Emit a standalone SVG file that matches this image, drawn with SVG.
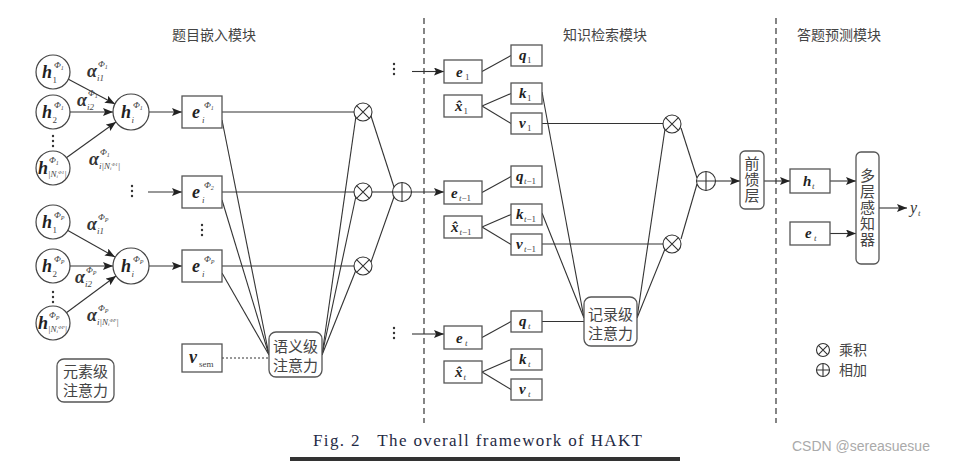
<svg xmlns="http://www.w3.org/2000/svg" width="964" height="461" viewBox="0 0 964 461">
<defs>
<style>
.ln{stroke:#333;stroke-width:1.1;fill:none}
.dl{stroke:#222;stroke-width:1.1;fill:none;stroke-dasharray:6,4}
.bx{fill:#fff;stroke:#555;stroke-width:1.3}
.cc{fill:#fff;stroke:#444;stroke-width:1.2}
.op{fill:#fff;stroke:#333;stroke-width:1.1}
.v{font-family:"Liberation Serif",serif;font-weight:bold;font-style:italic;font-size:18px;fill:#222}
.vs{font-family:"Liberation Serif",serif;font-weight:bold;font-style:italic;font-size:15px;fill:#222}
.sm{font-family:"Liberation Serif",serif;font-style:italic;font-size:9px;fill:#444}
.sn{font-family:"Liberation Serif",serif;font-size:9px;fill:#444}
.al{font-family:"Liberation Serif",serif;font-style:italic;font-weight:bold;font-size:18px;fill:#333}
.yt{font-family:"Liberation Serif",serif;font-style:italic;font-size:16px;fill:#333}
.cn{font-family:"Noto Sans CJK SC",sans-serif;font-size:14px;fill:#444}
.hd{font-family:"Noto Sans CJK SC",sans-serif;font-size:14px;fill:#444;text-anchor:middle}
.ct{font-family:"Noto Sans CJK SC",sans-serif;font-size:15px;fill:#444;text-anchor:middle}
.vt{font-family:"Noto Sans CJK SC",sans-serif;font-size:15px;fill:#444;text-anchor:middle;writing-mode:vertical-rl;letter-spacing:1.2px}
.dot{fill:#333}
</style>
<marker id="ah" viewBox="0 0 10 8" refX="10" refY="4" markerWidth="10" markerHeight="8" markerUnits="userSpaceOnUse" orient="auto">
<path d="M0,0 L10,4 L0,8 L2,4 z" fill="#222"/>
</marker>
<g id="otimes"><circle class="op" r="9"/><path class="ln" d="M-6.4,-6.4 L6.4,6.4 M-6.4,6.4 L6.4,-6.4"/></g>
<g id="oplus"><circle class="op" r="9.5"/><path class="ln" d="M-9.5,0 L9.5,0 M0,-9.5 L0,9.5"/></g>
<g id="vdots"><circle class="dot" cx="0" cy="0" r="1.2"/><circle class="dot" cx="0" cy="5" r="1.2"/><circle class="dot" cx="0" cy="10" r="1.2"/></g>
</defs>
<rect width="964" height="461" fill="#fff"/>

<!-- section headers -->
<text class="hd" x="214" y="40">题目嵌入模块</text>
<text class="hd" x="605" y="40">知识检索模块</text>
<text class="hd" x="839" y="40">答题预测模块</text>

<!-- dashed separators -->
<line class="dl" x1="424" y1="18" x2="424" y2="423"/>
<line class="dl" x1="776" y1="18" x2="776" y2="423"/>

<!-- connectors -->
<g id="connectors">
<line class="ln" x1="68" y1="79" x2="115" y2="104" marker-end="url(#ah)"/>
<line class="ln" x1="69" y1="112" x2="113" y2="112" marker-end="url(#ah)"/>
<line class="ln" x1="66" y1="158" x2="116" y2="122" marker-end="url(#ah)"/>
<line class="ln" x1="149" y1="112" x2="182" y2="112" marker-end="url(#ah)"/>
<line class="ln" x1="67" y1="230" x2="115" y2="257" marker-end="url(#ah)"/>
<line class="ln" x1="69" y1="266" x2="113" y2="266" marker-end="url(#ah)"/>
<line class="ln" x1="66" y1="313" x2="116" y2="276" marker-end="url(#ah)"/>
<line class="ln" x1="149" y1="266" x2="182" y2="266" marker-end="url(#ah)"/>
<line class="ln" x1="148" y1="192" x2="182" y2="192" marker-end="url(#ah)"/>
<line class="ln" x1="222" y1="112" x2="354" y2="112"/>
<line class="ln" x1="222" y1="192" x2="354" y2="192"/>
<line class="ln" x1="222" y1="266" x2="354" y2="266"/>
<line class="ln" x1="222" y1="120" x2="269" y2="355"/>
<line class="ln" x1="222" y1="200" x2="269" y2="355"/>
<line class="ln" x1="222" y1="273" x2="269" y2="355"/>
<line x1="222" y1="358" x2="269" y2="358" stroke="#333" stroke-width="1" stroke-dasharray="2,2"/>
<line class="ln" x1="322" y1="355" x2="356" y2="116"/>
<line class="ln" x1="322" y1="355" x2="356" y2="196"/>
<line class="ln" x1="322" y1="355" x2="356" y2="270"/>
<line class="ln" x1="371" y1="116" x2="394" y2="187"/>
<line class="ln" x1="372" y1="192" x2="393" y2="192"/>
<line class="ln" x1="371" y1="262" x2="394" y2="197"/>
<line class="ln" x1="411.5" y1="192" x2="444" y2="192" marker-end="url(#ah)"/>
<line class="ln" x1="412" y1="71.5" x2="444" y2="71.5" marker-end="url(#ah)"/>
<line class="ln" x1="412" y1="334" x2="444" y2="334" marker-end="url(#ah)"/>
<line class="ln" x1="482" y1="71.5" x2="511" y2="55.5"/>
<line class="ln" x1="482" y1="106" x2="511" y2="93.5"/>
<line class="ln" x1="482" y1="106" x2="511" y2="123.5"/>
<line class="ln" x1="482" y1="192.5" x2="511" y2="176.5"/>
<line class="ln" x1="482" y1="227" x2="511" y2="214.5"/>
<line class="ln" x1="482" y1="227" x2="511" y2="244.5"/>
<line class="ln" x1="482" y1="337.5" x2="511" y2="321.5"/>
<line class="ln" x1="482" y1="372" x2="511" y2="359.5"/>
<line class="ln" x1="482" y1="372" x2="511" y2="389.5"/>
<line class="ln" x1="542" y1="92" x2="584" y2="318"/>
<line class="ln" x1="542" y1="213" x2="584" y2="318"/>
<line class="ln" x1="542" y1="321.5" x2="584" y2="321.5"/>
<line class="ln" x1="542" y1="123.5" x2="663" y2="123.5"/>
<line class="ln" x1="542" y1="244" x2="663" y2="244"/>
<line class="ln" x1="637" y1="318" x2="665" y2="129"/>
<line class="ln" x1="637" y1="318" x2="665" y2="249"/>
<line class="ln" x1="681" y1="128" x2="697" y2="178"/>
<line class="ln" x1="681" y1="239" x2="697" y2="184"/>
<line class="ln" x1="715.5" y1="181" x2="740" y2="181" marker-end="url(#ah)"/>
<line class="ln" x1="764" y1="181" x2="790" y2="181" marker-end="url(#ah)"/>
<line class="ln" x1="830" y1="181" x2="856" y2="181" marker-end="url(#ah)"/>
<line class="ln" x1="830" y1="233.5" x2="856" y2="233.5" marker-end="url(#ah)"/>
<line class="ln" x1="879" y1="208" x2="907" y2="208" marker-end="url(#ah)"/>
</g>

<!-- Left: element-level nodes group Phi1 -->
<g id="h1_phi1">
<circle class="cc" cx="53" cy="72" r="17"/>
<text class="v" x="42" y="78">h</text><text class="sn" x="52.5" y="83">1</text>
<text class="sm" x="54" y="68">Φ<tspan font-size="6" dy="2">1</tspan></text>
</g>
<g id="h2_phi1">
<circle class="cc" cx="53" cy="112" r="17"/>
<text class="v" x="42" y="118">h</text><text class="sn" x="52.5" y="123">2</text>
<text class="sm" x="54" y="108">Φ<tspan font-size="6" dy="2">1</tspan></text>
</g>
<use href="#vdots" x="53" y="136"/>
<g id="hN_phi1">
<circle class="cc" cx="53" cy="168" r="17"/>
<text class="v" x="38" y="174">h</text>
<text class="sm" x="49" y="163">Φ<tspan font-size="6" dy="2">1</tspan></text>
<text class="sm" x="48" y="177" font-size="7">|N<tspan font-size="5" dy="1">i</tspan><tspan font-size="5" dy="-4">Φ1</tspan><tspan dy="3">|</tspan></text>
</g>
<g id="hi_phi1">
<circle class="cc" cx="131" cy="112" r="18"/>
<text class="v" x="121" y="118">h</text><text class="sm" x="131.5" y="123">i</text>
<text class="sm" x="133" y="108">Φ<tspan font-size="6" dy="2">1</tspan></text>
</g>
<g id="alpha_phi1">
<text class="al" x="87" y="77">α</text><text class="sm" x="97" y="81">i1</text><text class="sm" x="98" y="67">Φ<tspan font-size="6" dy="2">1</tspan></text>
<text class="al" x="77" y="106">α</text><text class="sm" x="87" y="110">i2</text><text class="sm" x="88" y="96">Φ<tspan font-size="6" dy="2">1</tspan></text>
<text class="al" x="89" y="165">α</text><text class="sm" x="99" y="169" font-size="7">i|N<tspan font-size="5" dy="1">i</tspan><tspan font-size="5" dy="-4">Φ1</tspan><tspan dy="3">|</tspan></text><text class="sm" x="100" y="155">Φ<tspan font-size="6" dy="2">1</tspan></text>
</g>
<g id="e_phi1">
<rect class="bx" x="182" y="96" width="40" height="32"/>
<text class="v" x="192" y="118">e</text><text class="sm" x="202" y="123">i</text>
<text class="sm" x="204" y="108">Φ<tspan font-size="6" dy="2">1</tspan></text>
</g>
<use href="#vdots" x="132" y="186"/>
<g id="e_phi2">
<rect class="bx" x="182" y="176" width="40" height="32"/>
<text class="v" x="192" y="198">e</text><text class="sm" x="202" y="203">i</text>
<text class="sm" x="204" y="188">Φ<tspan font-size="6" dy="2">2</tspan></text>
</g>
<use href="#vdots" x="202" y="225"/>
<g id="h1_phip">
<circle class="cc" cx="53" cy="222" r="17"/>
<text class="v" x="42" y="228">h</text><text class="sn" x="52.5" y="233">1</text>
<text class="sm" x="54" y="218">Φ<tspan font-size="6" dy="2">P</tspan></text>
</g>
<g id="h2_phip">
<circle class="cc" cx="53" cy="266" r="17"/>
<text class="v" x="42" y="272">h</text><text class="sn" x="52.5" y="277">2</text>
<text class="sm" x="54" y="262">Φ<tspan font-size="6" dy="2">P</tspan></text>
</g>
<use href="#vdots" x="53" y="292"/>
<g id="hN_phip">
<circle class="cc" cx="53" cy="323" r="17"/>
<text class="v" x="38" y="329">h</text>
<text class="sm" x="49" y="318">Φ<tspan font-size="6" dy="2">P</tspan></text>
<text class="sm" x="48" y="332" font-size="7">|N<tspan font-size="5" dy="1">i</tspan><tspan font-size="5" dy="-4">ΦP</tspan><tspan dy="3">|</tspan></text>
</g>
<g id="hi_phip">
<circle class="cc" cx="131" cy="266" r="18"/>
<text class="v" x="121" y="272">h</text><text class="sm" x="131.5" y="277">i</text>
<text class="sm" x="133" y="262">Φ<tspan font-size="6" dy="2">P</tspan></text>
</g>
<g id="alpha_phip">
<text class="al" x="87" y="230">α</text><text class="sm" x="97" y="234">i1</text><text class="sm" x="98" y="220">Φ<tspan font-size="6" dy="2">P</tspan></text>
<text class="al" x="75" y="283">α</text><text class="sm" x="85" y="287">i2</text><text class="sm" x="86" y="273">Φ<tspan font-size="6" dy="2">P</tspan></text>
<text class="al" x="87" y="321">α</text><text class="sm" x="97" y="325" font-size="7">i|N<tspan font-size="5" dy="1">i</tspan><tspan font-size="5" dy="-4">ΦP</tspan><tspan dy="3">|</tspan></text><text class="sm" x="98" y="311">Φ<tspan font-size="6" dy="2">P</tspan></text>
</g>
<g id="e_phip">
<rect class="bx" x="182" y="250" width="40" height="32"/>
<text class="v" x="192" y="272">e</text><text class="sm" x="202" y="277">i</text>
<text class="sm" x="204" y="262">Φ<tspan font-size="6" dy="2">P</tspan></text>
</g>
<g id="v_sem">
<rect class="bx" x="182" y="344" width="40" height="28"/>
<text class="v" x="189" y="363">v</text><text class="sn" x="199" y="367" font-size="9">sem</text>
</g>
<g id="elem_att">
<rect class="bx" x="57" y="359" width="57" height="43" rx="7"/>
<text class="ct" x="85.5" y="377">元素级</text>
<text class="ct" x="85.5" y="396">注意力</text>
</g>
<g id="sem_att">
<rect class="bx" x="269" y="332" width="53" height="45" rx="7"/>
<text class="ct" x="295.5" y="352">语义级</text>
<text class="ct" x="295.5" y="371">注意力</text>
</g>
<g id="ops_left">
<use href="#otimes" x="363" y="112"/>
<use href="#otimes" x="363" y="192"/>
<use href="#otimes" x="363" y="266"/>
<use href="#oplus" x="402" y="192"/>
</g>
<use href="#vdots" x="394" y="64"/>
<use href="#vdots" x="394" y="328"/>

<!-- Knowledge retrieval -->
<g id="e1"><rect class="bx" x="444" y="60" width="38" height="23"/><text class="vs" x="456" y="77">e</text><text class="sn" x="465" y="80">1</text></g>
<g id="q1"><rect class="bx" x="511" y="45" width="31" height="21"/><text class="vs" x="519" y="60">q</text><text class="sn" x="527" y="63">1</text></g>
<g id="x1"><rect class="bx" x="444" y="95" width="38" height="22"/><text class="vs" x="455" y="111">x&#x302;<tspan class="sn" font-weight="normal" font-style="normal" dx="1" dy="3">1</tspan></text></g>
<g id="k1"><rect class="bx" x="511" y="83" width="31" height="21"/><text class="vs" x="519" y="98">k</text><text class="sn" x="527" y="101">1</text></g>
<g id="v1"><rect class="bx" x="511" y="113" width="31" height="21"/><text class="vs" x="519" y="128">v</text><text class="sn" x="527" y="131">1</text></g>

<g id="et1"><rect class="bx" x="444" y="181" width="38" height="23"/><text class="vs" x="451" y="198">e</text><text class="sm" x="459" y="201">t<tspan font-style="normal">−1</tspan></text></g>
<g id="qt1"><rect class="bx" x="511" y="166" width="31" height="21"/><text class="vs" x="516" y="181">q</text><text class="sm" x="524" y="184">t<tspan font-style="normal">−1</tspan></text></g>
<g id="xt1"><rect class="bx" x="444" y="216" width="38" height="22"/><text class="vs" x="451" y="232">x&#x302;<tspan class="sm" font-weight="normal" dx="1" dy="3">t</tspan><tspan class="sn" font-weight="normal" font-style="normal">−1</tspan></text></g>
<g id="kt1"><rect class="bx" x="511" y="204" width="31" height="21"/><text class="vs" x="516" y="219">k</text><text class="sm" x="524" y="222">t<tspan font-style="normal">−1</tspan></text></g>
<g id="vt1"><rect class="bx" x="511" y="234" width="31" height="21"/><text class="vs" x="516" y="249">v</text><text class="sm" x="524" y="252">t<tspan font-style="normal">−1</tspan></text></g>

<g id="et"><rect class="bx" x="444" y="326" width="38" height="23"/><text class="vs" x="456" y="343">e</text><text class="sm" x="465" y="346">t</text></g>
<g id="qt"><rect class="bx" x="511" y="311" width="31" height="21"/><text class="vs" x="519" y="326">q</text><text class="sm" x="528" y="329">t</text></g>
<g id="xt"><rect class="bx" x="444" y="361" width="38" height="22"/><text class="vs" x="455" y="377">x&#x302;<tspan class="sm" font-weight="normal" dx="1" dy="3">t</tspan></text></g>
<g id="kt"><rect class="bx" x="511" y="349" width="31" height="21"/><text class="vs" x="519" y="364">k</text><text class="sm" x="528" y="367">t</text></g>
<g id="vt"><rect class="bx" x="511" y="379" width="31" height="21"/><text class="vs" x="519" y="394">v</text><text class="sm" x="528" y="397">t</text></g>

<g id="rec_att">
<rect class="bx" x="584" y="297" width="53" height="49" rx="7"/>
<text class="ct" x="610.5" y="320">记录级</text>
<text class="ct" x="610.5" y="339">注意力</text>
</g>
<g id="ops_right">
<use href="#otimes" x="672" y="124"/>
<use href="#otimes" x="672" y="244"/>
<use href="#oplus" x="706" y="181"/>
</g>
<g id="ffn">
<rect class="bx" x="740" y="151" width="24" height="58" rx="5"/>
<text class="vt" x="752" y="180">前馈层</text>
</g>

<!-- Answer prediction -->
<g id="ht"><rect class="bx" x="790" y="169" width="40" height="24"/><text class="vs" x="803" y="186">h</text><text class="sm" x="812" y="189">t</text></g>
<g id="et_r"><rect class="bx" x="790" y="222" width="40" height="23"/><text class="vs" x="805" y="238">e</text><text class="sm" x="814" y="241">t</text></g>
<g id="mlp">
<rect class="bx" x="856" y="152" width="23" height="112" rx="5"/>
<text class="vt" x="867.5" y="208">多层感知器</text>
</g>
<g id="yt"><text class="yt" x="910" y="213">y</text><text class="sm" x="918" y="216">t</text></g>

<!-- legend -->
<g id="legend">
<circle class="op" cx="823" cy="350" r="6.5"/><path class="ln" d="M818.4,345.4 L827.6,354.6 M818.4,354.6 L827.6,345.4"/>
<text class="cn" x="839" y="355">乘积</text>
<circle class="op" cx="823" cy="370" r="6.5"/><path class="ln" d="M816.5,370 L829.5,370 M823,363.5 L823,376.5"/>
<text class="cn" x="839" y="375">相加</text>
</g>

<!-- caption -->
<text x="313" y="446" font-family="Liberation Serif,serif" font-size="17" fill="#1f2a44" xml:space="preserve" textLength="329" lengthAdjust="spacing">Fig. 2   The overall framework of HAKT</text>
<rect x="290" y="457" width="390" height="4" fill="#333"/>
<text x="792" y="451" font-family="Liberation Sans,sans-serif" font-size="14" fill="#aaa">CSDN @sereasuesue</text>
</svg>
